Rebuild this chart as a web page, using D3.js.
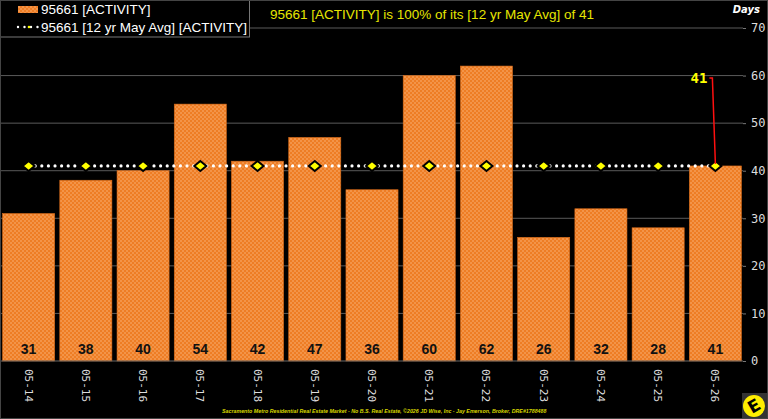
<!DOCTYPE html>
<html>
<head>
<meta charset="utf-8">
<script src="https://cdn.jsdelivr.net/npm/d3@7"></script>
<style>
  html, body { margin: 0; padding: 0; background: #000; }
  svg { display: block; }
</style>
</head>
<body>
<div id="chart"></div>
<script>
// data
const months = ["05-14", "05-15", "05-16", "05-17", "05-18", "05-19", "05-20", "05-21", "05-22", "05-23", "05-24", "05-25", "05-26"];
const activity = [31, 38, 40, 54, 42, 47, 36, 60, 62, 26, 32, 28, 41];
const avgValue = 41;
const yTicks = [0, 10, 20, 30, 40, 50, 60, 70];

const width = 768, height = 419;
const svg = d3.select("#chart").append("svg")
  .attr("width", width)
  .attr("height", height)
  .style("background", "#000");

// checkered orange fill for the bars
const defs = svg.append("defs");
const pat = defs.append("pattern")
  .attr("id", "checks")
  .attr("width", 4).attr("height", 4)
  .attr("patternUnits", "userSpaceOnUse");
pat.append("rect").attr("width", 4).attr("height", 4).attr("fill", "#ee7d24");
pat.append("rect").attr("width", 2).attr("height", 2).attr("fill", "#f39448");
pat.append("rect").attr("x", 2).attr("y", 2).attr("width", 2).attr("height", 2).attr("fill", "#f39448");

const x = d3.scaleBand().domain(months).range([0, 744]).paddingInner(0.09).paddingOuter(0.045);
const y = d3.scaleLinear().domain([0, 70]).range([361, 28]);

// gridlines
svg.append("g")
  .selectAll("line")
  .data(yTicks.filter(d => d > 0))
  .enter().append("line")
  .attr("x1", 0).attr("x2", 743)
  .attr("y1", d => y(d)).attr("y2", d => y(d))
  .attr("stroke", "#5a5a5a").attr("stroke-width", 1);

// right axis
const yAxis = svg.append("g")
  .attr("transform", "translate(743,0)")
  .call(d3.axisRight(y).tickValues(yTicks).tickSize(3).tickPadding(5));
yAxis.select(".domain").remove();
yAxis.selectAll("line").attr("stroke", "#777");
yAxis.selectAll("text")
  .attr("fill", "#ddd")
  .style("font-family", "'DejaVu Sans Mono', monospace")
  .style("font-size", "12px");

svg.append("text")
  .attr("x", 760).attr("y", 13)
  .attr("text-anchor", "end")
  .attr("fill", "#fff")
  .style("font-family", "'DejaVu Sans', sans-serif")
  .style("font-size", "10px")
  .style("font-style", "italic")
  .style("font-weight", "bold")
  .text("Days");

// bars
svg.append("g")
  .selectAll("rect")
  .data(activity)
  .enter().append("rect")
  .attr("x", (d, i) => x(months[i]))
  .attr("width", x.bandwidth())
  .attr("y", d => y(d))
  .attr("height", d => y(0) - y(d))
  .attr("fill", "url(#checks)")
  .attr("stroke", "#d86a18").attr("stroke-width", 0.6);

// baseline
svg.append("line")
  .attr("x1", 0).attr("x2", 743)
  .attr("y1", y(0)).attr("y2", y(0))
  .attr("stroke", "#666");

// value labels in bars
svg.append("g")
  .selectAll("text")
  .data(activity)
  .enter().append("text")
  .attr("x", (d, i) => x(months[i]) + x.bandwidth() / 2)
  .attr("y", 354)
  .attr("text-anchor", "middle")
  .attr("fill", "#111")
  .style("font-family", "'Liberation Sans', Arial, sans-serif")
  .style("font-size", "14px")
  .style("font-weight", "bold")
  .text(d => d);

// x labels rotated
svg.append("g")
  .selectAll("text")
  .data(months)
  .enter().append("text")
  .attr("transform", d => "translate(" + (x(d) + x.bandwidth() / 2 - 4) + ",369) rotate(90)")
  .attr("fill", "#ddd")
  .style("font-family", "'DejaVu Sans Mono', monospace")
  .style("font-size", "11px")
  .text(d => d);

// average dotted line
const cx = d => x(d) + x.bandwidth() / 2;
svg.append("line")
  .attr("x1", cx(months[0])).attr("x2", cx(months[months.length - 1]))
  .attr("y1", y(avgValue)).attr("y2", y(avgValue))
  .attr("stroke", "#fff")
  .attr("stroke-width", 3.2)
  .attr("stroke-linecap", "round")
  .attr("stroke-dasharray", "0 6.6");

// diamonds (wide, squat like the original markers)
const diamond = "M-6,0 L0,-5 L6,0 L0,5 Z";
svg.append("g")
  .selectAll("path")
  .data(months)
  .enter().append("path")
  .attr("d", diamond)
  .attr("transform", d => "translate(" + cx(d) + "," + y(avgValue) + ")")
  .attr("fill", "#ffff00")
  .attr("stroke", "#000")
  .attr("stroke-width", 2);

// callout for last value
const lastX = cx(months[months.length - 1]);
svg.append("path")
  .attr("d", "M" + (lastX - 6) + "," + 78 + " L" + (lastX - 3) + "," + 78 + " L" + (lastX) + "," + (y(avgValue) - 2))
  .attr("fill", "none")
  .attr("stroke", "#ff1010")
  .attr("stroke-width", 1.5);
svg.append("text")
  .attr("x", lastX - 8).attr("y", 83)
  .attr("text-anchor", "end")
  .attr("fill", "#ffff00")
  .style("font-family", "'DejaVu Sans Mono', monospace")
  .style("font-size", "14px")
  .style("font-weight", "bold")
  .text(activity[activity.length - 1]);

// legend
const legend = svg.append("g");
legend.append("rect")
  .attr("x", 0.5).attr("y", -1).attr("width", 249).attr("height", 38)
  .attr("fill", "#000").attr("stroke", "#777");
legend.append("rect")
  .attr("x", 18).attr("y", 6).attr("width", 20).attr("height", 7)
  .attr("fill", "url(#checks)");
legend.append("line")
  .attr("x1", 18).attr("x2", 38).attr("y1", 27).attr("y2", 27)
  .attr("stroke", "#fff").attr("stroke-width", 2.4)
  .attr("stroke-linecap", "round").attr("stroke-dasharray", "0 6.5");
legend.append("circle").attr("cx", 29).attr("cy", 27).attr("r", 1.3).attr("fill", "#ffff00");
const legendItems = ["95661 [ACTIVITY]", "95661 [12 yr May Avg] [ACTIVITY]"];
legend.selectAll("text.lg")
  .data(legendItems)
  .enter().append("text")
  .attr("class", "lg")
  .attr("x", 41)
  .attr("y", (d, i) => 14 + i * 18)
  .attr("fill", "#fff")
  .style("font-family", "'Liberation Sans', Arial, sans-serif")
  .style("font-size", "13.5px")
  .text(d => d);

// title
svg.append("text")
  .attr("x", 432).attr("y", 19)
  .attr("text-anchor", "middle")
  .attr("fill", "#e6e600")
  .style("font-family", "'Liberation Sans', Arial, sans-serif")
  .style("font-size", "13.5px")
  .text("95661 [ACTIVITY] is " + Math.round(activity[activity.length - 1] / avgValue * 100) + "% of its [12 yr May Avg] of " + avgValue);

// footer
svg.append("text")
  .attr("x", 222).attr("y", 413)
  .attr("fill", "#d8d800")
  .style("font-family", "'Liberation Sans', Arial, sans-serif")
  .style("font-size", "5.3px")
  .style("font-style", "italic")
  .style("font-weight", "bold")
  .text("Sacramento Metro Residential Real Estate Market - No B.S. Real Estate, \u00a92026 JD Wise, Inc - Jay Emerson, Broker, DRE#1788488");

// logo
const logo = svg.append("g").attr("transform", "translate(754,406)");
logo.append("rect").attr("x", -12).attr("y", -13).attr("width", 26).attr("height", 26).attr("fill", "#333");
logo.append("circle").attr("r", 11).attr("fill", "#ffee00");
logo.append("text")
  .attr("transform", "rotate(-30)")
  .attr("text-anchor", "middle").attr("y", 6)
  .attr("fill", "#000")
  .style("font-family", "'DejaVu Sans', sans-serif")
  .style("font-size", "17px")
  .style("font-weight", "bold")
  .text("E");

// outer border
svg.append("rect")
  .attr("x", 0.5).attr("y", 0.5).attr("width", width - 1).attr("height", height - 1)
  .attr("fill", "none").attr("stroke", "#444");
</script>
</body>
</html>
